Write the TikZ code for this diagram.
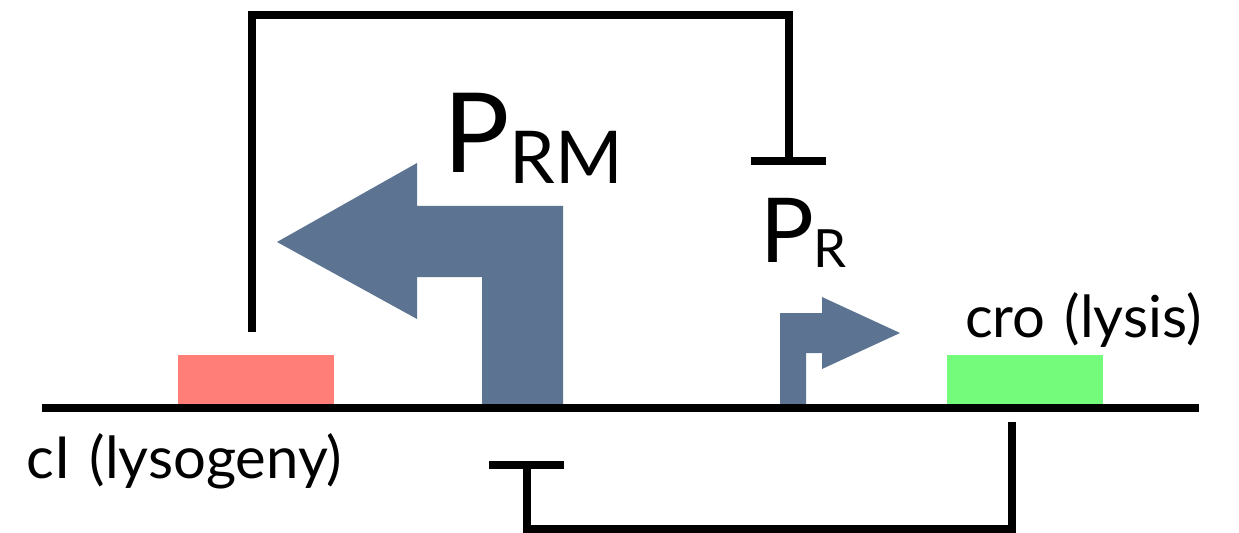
\documentclass[tikz,border=0pt]{standalone}
\usepackage{fontspec}
\setmainfont{Lato}
\definecolor{arrowblue}{RGB}{92,116,146}
\definecolor{cired}{RGB}{255,127,120}
\definecolor{crogreen}{RGB}{117,251,123}
\begin{document}
\begin{tikzpicture}[x=0.02cm,y=-0.02cm,
  wire/.style={line width=4.5pt, line join=miter},
  gene/.style={draw=none, inner sep=0pt, outer sep=0pt, minimum width=3.12cm, minimum height=0.98cm},
  lbl/.style={inner sep=0pt, outer sep=0pt, anchor=base west, font=\fontsize{33}{33}\selectfont, execute at begin node={\spaceskip=0.33em\relax}},
  promo/.style={fill=arrowblue, draw=none}]
\useasboundingbox (0,0) rectangle (1239,533);
% genes
\node[gene, fill=cired] (cI) at (256,379.5) {};
\node[gene, fill=crogreen] (cro) at (1024.5,379.5) {};
% promoter arrows
\fill[promo] (563,407) -- (563,206) -- (417,206) -- (417,163) -- (277,242) -- (417,319) -- (417,277) -- (482,277) -- (482,407) -- cycle;
\fill[promo] (780,407) -- (780,313) -- (822,313) -- (822,297) -- (900,333) -- (822,369) -- (822,353) -- (806,353) -- (806,407) -- cycle;
% DNA baseline
\coordinate (dnaL) at (42,408);
\coordinate (dnaR) at (1199,408);
\draw[line width=4.5pt] (dnaL) -- (dnaR);
% labels
\node[inner sep=0pt, outer sep=0pt, anchor=base west, font=\fontsize{63}{63}\selectfont] (prm) at (443,173) {P\raisebox{-5.7pt}{\fontsize{41.5}{41.5}\selectfont RM}};
\node[inner sep=0pt, outer sep=0pt, anchor=base west, font=\fontsize{51}{51}\selectfont] (pr) at (760,262) {P\raisebox{-3.4pt}{\fontsize{30}{30}\selectfont R}};
\node[lbl] (cIlab) at (27,478) {cI (lysogeny)};
\node[lbl] (crolab) at (965,337) {cro (lysis)};
% repression cI -| PR
\coordinate (cIout) at (252,332);
\coordinate (topL) at (252,15);
\coordinate (topR) at (789,15);
\coordinate (prbar) at (789,161);
\coordinate (prbarL) at (751,161);
\coordinate (prbarR) at (826,161);
\draw[wire] (cIout) -- (topL) -- (topR) -- (prbar);
\draw[wire] (prbarL) -- (prbarR);
% repression cro -| PRM
\coordinate (croout) at (1012,422);
\coordinate (botR) at (1012,529);
\coordinate (botL) at (527,529);
\coordinate (rmbar) at (527,465);
\coordinate (rmbarL) at (489,465);
\coordinate (rmbarR) at (564,465);
\draw[wire] (croout) -- (botR) -- (botL) -- (rmbar);
\draw[wire] (rmbarL) -- (rmbarR);
\end{tikzpicture}
\end{document}
